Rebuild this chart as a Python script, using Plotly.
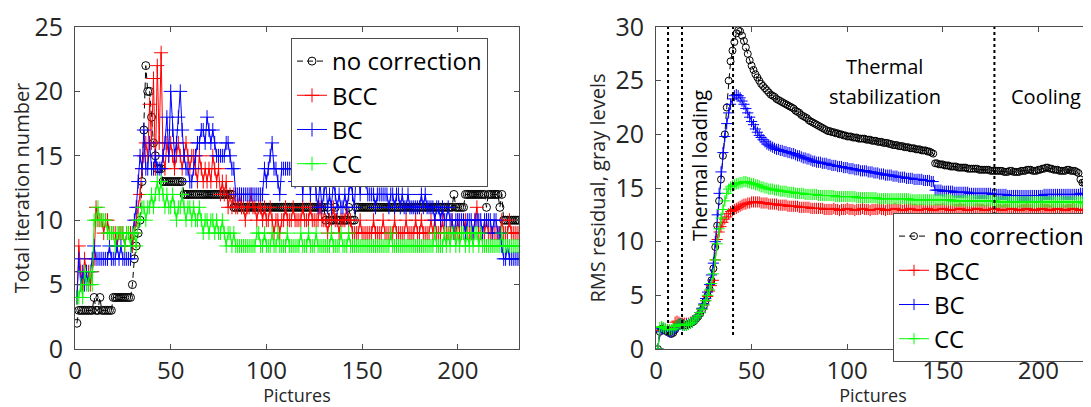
import plotly.graph_objects as go

# ---------------- data: left panel (total iteration number) ----------------
NC_ITER = [
2,3,3,3,3,3,3,3,3,4,
3,3,4,3,3,3,3,3,3,4,
4,4,4,4,4,4,4,4,4,5,
7,8,9,10,13,17,22,20,20,18,
16,15,14,14,14,13,13,13,13,13,
13,13,13,13,13,13,12,12,12,12,
12,12,12,12,12,12,12,12,12,12,
12,12,12,12,12,12,12,12,12,12,
12,12,11,11,11,11,11,11,11,11,
11,11,11,11,11,11,11,11,11,11,
11,11,11,11,11,11,11,11,11,11,
11,11,11,11,11,11,11,11,11,11,
11,11,11,11,11,11,11,11,11,11,
10,11,10,10,10,11,10,10,10,10,
10,10,11,10,10,10,11,11,11,11,
11,11,11,11,11,11,11,11,11,11,
11,11,11,11,11,11,11,11,11,11,
11,11,11,11,11,11,11,11,11,11,
11,11,11,11,11,11,11,11,11,11,
11,11,11,11,11,11,11,12,11,11,
11,11,11,12,12,12,12,12,12,12,
12,12,12,12,11,12,12,12,12,12,
12,11,12,10,10,10,10,10,10,10,
10,10]

BCC_ITER = [
4,8,6,5,7,6,6,5,6,7,
11,10,10,10,9,10,10,9,9,9,
9,8,9,9,9,8,9,9,9,8,
9,10,11,12,14,15,16,15,19,16,
21,14,22,16,23,15,14,16,15,16,
15,14,15,16,15,14,15,16,15,14,
15,15,14,13,15,14,13,14,13,14,
13,15,14,13,14,12,13,12,13,11,
12,11,12,11,11,12,11,11,10,11,
11,12,11,11,10,11,11,10,11,10,
10,11,10,9,10,10,9,10,10,11,
10,10,10,11,10,10,10,10,11,10,
10,10,11,10,10,10,10,11,10,10,
10,9,10,10,11,10,10,9,10,10,
10,11,10,10,9,9,9,9,10,9,
9,9,9,9,9,10,9,9,9,9,
10,9,9,9,9,9,10,9,9,9,
9,9,10,9,9,9,9,10,9,9,
10,9,9,9,9,10,9,10,9,9,
9,10,9,9,9,9,10,9,9,10,
9,9,9,10,9,9,9,9,10,11,
9,9,9,9,10,9,9,9,9,9,
9,9,10,9,9,9,10,9,9,9,
9,9]

BC_ITER = [
4,7,5,6,5,6,5,6,7,8,
7,7,7,7,7,7,7,8,7,7,
7,8,7,8,7,7,7,7,7,9,
10,11,13,15,14,17,14,14,16,14,
14,15,14,14,14,15,16,18,15,20,
17,15,16,18,20,17,15,14,14,13,
13,14,15,16,16,17,17,16,18,17,
16,17,16,15,15,15,15,15,16,16,
15,14,14,12,12,12,12,12,12,12,
12,12,12,12,12,12,12,12,14,13,
14,15,16,14,14,13,12,14,14,14,
14,14,14,14,13,14,14,14,12,14,
14,14,12,14,14,12,11,13,11,12,
13,11,12,11,13,12,11,12,11,11,
12,11,12,13,12,11,14,14,12,14,
14,13,12,12,12,12,11,12,12,12,
12,12,12,11,12,12,11,12,12,11,
12,11,11,12,11,11,11,11,11,11,
12,11,12,11,11,11,11,10,11,11,
10,11,10,10,11,10,10,9,10,10,
10,10,10,9,10,10,10,9,10,10,
10,10,9,10,10,10,10,9,10,10,
9,9,8,7,7,8,7,7,7,7,
7,7]

CC_ITER = [
4,4,5,4,6,5,5,6,5,10,
10,11,10,10,10,10,9,9,9,9,
8,9,9,9,9,8,9,9,8,9,
9,8,10,10,11,11,10,11,11,12,
11,12,13,12,13,12,11,12,11,11,
12,11,10,11,11,12,11,10,11,11,
10,11,10,10,11,10,9,10,10,9,
10,10,9,10,9,9,10,9,8,9,
9,8,9,8,8,8,8,8,8,8,
8,8,8,8,9,9,8,8,9,8,
8,8,9,8,8,9,8,8,8,8,
9,8,8,8,8,8,8,9,8,8,
8,9,8,8,8,9,8,8,8,8,
8,8,8,9,8,8,8,8,9,8,
8,8,9,8,8,8,8,8,8,8,
8,8,8,8,8,8,8,8,8,8,
8,8,8,8,9,8,8,8,8,8,
8,8,8,8,8,8,8,8,8,8,
8,8,8,8,8,8,8,9,8,8,
8,8,9,8,9,8,9,9,8,9,
8,9,9,8,9,8,9,8,9,9,
8,9,8,8,8,8,8,8,8,8,
8,8,9,8,8,8,8,8,8,8,
8,8]

# ---------------- data: right panel (RMS residual, gray levels) ----------------
NC_RMS = [
0.0,1.6,1.9,1.8,1.7,1.6,1.5,1.4,1.5,1.8,
2.1,2.4,2.5,2.3,2.2,2.2,2.3,2.4,2.5,2.6,
2.8,3.0,3.3,3.6,4.0,4.5,5.0,5.6,6.4,7.5,
9.5,11.5,13.8,15.8,18.0,20.0,22.5,25.0,26.8,27.8,
28.6,29.4,29.7,29.6,29.2,28.7,28.1,27.5,26.9,26.4,
26.0,25.6,25.3,25.0,24.7,24.5,24.3,24.1,23.9,23.7,
23.6,23.5,23.3,23.2,23.1,23.0,22.9,22.8,22.7,22.6,
22.5,22.4,22.2,22.1,22.0,21.8,21.7,21.6,21.5,21.3,
21.2,21.1,21.0,20.9,20.8,20.7,20.6,20.5,20.4,20.3,
20.3,20.2,20.2,20.1,20.1,20.0,20.0,19.9,19.9,19.8,
19.8,19.8,19.7,19.7,19.7,19.6,19.6,19.6,19.6,19.5,
19.5,19.5,19.4,19.4,19.4,19.3,19.3,19.3,19.2,19.2,
19.2,19.1,19.1,19.0,19.0,19.0,18.9,18.9,18.9,18.8,
18.8,18.8,18.7,18.7,18.7,18.6,18.6,18.6,18.5,18.5,
18.5,18.4,18.4,18.3,18.2,17.3,17.3,17.2,17.2,17.2,
17.1,17.1,17.1,17.0,17.0,17.0,17.0,16.9,16.9,16.9,
16.9,16.9,16.8,16.8,16.8,16.8,16.8,16.8,16.7,16.7,
16.7,16.7,16.7,16.7,16.6,16.6,16.6,16.6,16.6,16.6,
16.6,16.5,16.5,16.5,16.6,16.6,16.5,16.5,16.5,16.5,
16.6,16.6,16.6,16.7,16.7,16.7,16.6,16.6,16.6,16.7,
16.7,16.8,16.8,16.9,16.9,16.8,16.8,16.7,16.7,16.7,
16.6,16.6,16.6,16.6,16.7,16.7,16.6,16.6,16.6,16.5,
16.4,15.8,15.5,15.5,15.4,15.5,15.5]

BCC_RMS = [
0.0,1.7,2.0,1.9,1.8,1.8,1.7,1.7,2.0,2.5,
2.6,2.5,2.4,2.4,2.4,2.4,2.4,2.5,2.6,2.7,
2.9,3.1,3.4,3.7,4.1,4.5,4.9,5.4,5.9,6.4,
8.3,10.2,10.9,11.4,11.8,12.1,12.3,12.6,12.8,12.9,
13.0,13.1,13.2,13.3,13.4,13.5,13.5,13.6,13.6,13.7,
13.7,13.7,13.7,13.7,13.6,13.6,13.6,13.6,13.5,13.5,
13.5,13.5,13.5,13.4,13.4,13.4,13.4,13.4,13.3,13.3,
13.3,13.3,13.3,13.3,13.2,13.2,13.2,13.2,13.2,13.2,
13.1,13.1,13.1,13.1,13.1,13.1,13.1,13.0,13.0,13.0,
13.0,13.0,13.1,13.0,13.0,12.9,13.0,13.0,13.0,13.1,
13.0,13.0,13.0,12.9,13.0,13.0,13.0,13.1,13.0,13.0,
13.0,12.9,13.0,13.0,13.0,13.0,13.1,13.0,13.0,12.9,
13.0,13.0,13.0,13.0,13.1,13.0,13.0,13.0,12.9,13.0,
13.0,13.0,13.1,13.0,13.0,13.0,12.9,13.0,13.0,13.0,
13.0,13.1,13.0,13.0,12.9,13.0,13.0,13.0,13.0,13.1,
13.0,13.0,13.0,12.9,13.0,13.0,13.0,13.0,13.1,13.0,
13.0,13.0,12.9,13.0,13.0,13.0,13.0,13.1,13.0,13.0,
13.0,12.9,13.0,13.0,13.0,13.0,13.1,13.0,13.0,13.0,
12.9,13.0,13.0,13.0,13.0,13.1,13.0,13.0,13.0,12.9,
13.0,13.0,13.0,13.1,13.0,13.0,13.0,12.9,13.0,13.0,
13.0,13.1,13.0,13.0,13.0,12.9,13.0,13.0,13.0,13.1,
13.0,13.0,13.0,12.9,13.0,13.0,13.0,13.1,13.0,13.0,
13.0,12.9,13.0,13.0,13.0,13.1,13.0]

BC_RMS = [
0.0,1.6,1.9,1.9,1.8,1.7,1.6,1.6,1.7,1.9,
2.1,2.3,2.3,2.2,2.2,2.3,2.3,2.4,2.5,2.7,
2.9,3.1,3.4,3.8,4.2,4.7,5.3,6.0,6.9,8.0,
10.0,12.5,14.5,16.5,18.3,19.8,21.0,22.0,22.8,23.3,
23.6,23.7,23.6,23.4,23.1,22.8,22.4,22.0,21.6,21.2,
20.9,20.5,20.2,19.9,19.7,19.5,19.3,19.1,19.0,18.9,
18.8,18.7,18.6,18.6,18.5,18.5,18.4,18.4,18.3,18.3,
18.2,18.2,18.1,18.0,18.0,17.9,17.8,17.8,17.7,17.7,
17.6,17.5,17.5,17.4,17.4,17.4,17.3,17.3,17.3,17.2,
17.2,17.1,17.1,17.1,17.0,17.0,17.0,16.9,16.9,16.9,
16.8,16.8,16.8,16.7,16.7,16.7,16.6,16.6,16.6,16.6,
16.5,16.5,16.5,16.4,16.4,16.4,16.3,16.3,16.3,16.2,
16.2,16.2,16.2,16.1,16.1,16.1,16.0,16.0,16.0,16.0,
15.9,15.9,15.9,15.9,15.8,15.8,15.8,15.8,15.8,15.7,
15.7,15.7,15.7,15.6,15.6,14.8,14.8,14.8,14.8,14.7,
14.7,14.7,14.7,14.7,14.7,14.6,14.6,14.6,14.6,14.6,
14.6,14.6,14.6,14.5,14.5,14.5,14.5,14.5,14.5,14.5,
14.5,14.5,14.5,14.5,14.5,14.4,14.4,14.4,14.4,14.4,
14.4,14.4,14.4,14.3,14.3,14.3,14.3,14.3,14.3,14.3,
14.3,14.3,14.3,14.3,14.3,14.3,14.3,14.3,14.3,14.3,
14.3,14.3,14.4,14.4,14.4,14.4,14.4,14.4,14.4,14.4,
14.4,14.4,14.4,14.4,14.4,14.4,14.4,14.4,14.4,14.4,
14.4,14.5,14.5,14.4,14.4,14.4,14.4]

CC_RMS = [
0.0,2.0,2.1,2.0,1.9,1.8,1.8,1.8,1.9,2.1,
2.2,2.3,2.3,2.2,2.2,2.2,2.3,2.4,2.5,2.7,
2.9,3.1,3.4,3.7,4.1,4.5,5.0,5.5,6.1,7.0,
8.3,9.8,11.2,12.2,13.0,13.8,14.5,14.9,15.1,15.2,
15.3,15.4,15.4,15.5,15.5,15.6,15.6,15.5,15.5,15.4,
15.4,15.3,15.3,15.2,15.1,15.1,15.0,15.0,14.9,14.9,
14.9,14.8,14.8,14.8,14.7,14.7,14.7,14.7,14.6,14.6,
14.6,14.6,14.5,14.5,14.5,14.5,14.5,14.4,14.4,14.4,
14.4,14.4,14.4,14.4,14.3,14.3,14.3,14.3,14.3,14.3,
14.3,14.3,14.3,14.2,14.2,14.2,14.2,14.2,14.2,14.2,
14.2,14.2,14.2,14.2,14.1,14.1,14.1,14.1,14.1,14.1,
14.1,14.1,14.1,14.1,14.1,14.0,14.0,14.0,14.0,14.0,
14.0,14.0,14.0,14.0,14.0,14.0,14.0,14.0,14.0,14.0,
14.0,14.0,13.9,13.9,13.9,13.9,13.9,13.9,13.9,13.9,
13.9,13.9,13.9,13.9,13.9,13.9,13.9,13.9,13.9,13.9,
13.9,13.9,13.9,13.9,13.8,13.8,13.8,13.8,13.8,13.8,
13.8,13.8,13.8,13.8,13.8,13.8,13.8,13.8,13.8,13.8,
13.8,13.8,13.8,13.8,13.8,13.8,13.8,13.7,13.7,13.7,
13.7,13.7,13.7,13.7,13.7,13.7,13.7,13.7,13.7,13.7,
13.7,13.7,13.7,13.7,13.7,13.7,13.7,13.7,13.7,13.7,
13.7,13.7,13.7,13.7,13.7,13.7,13.7,13.7,13.7,13.7,
13.7,13.7,13.7,13.7,13.7,13.7,13.7,13.7,13.7,13.7,
13.7,13.7,13.7,13.6,13.6,13.6,13.6]

SERIES_NAMES = ["no correction", "BCC", "BC", "CC"]
SERIES_COLORS = ["#000000", "#ff0000", "#0000ff", "#00ff00"]
PHASE_BOUNDARIES = [6.3, 13.6, 40.3, 177.0]
PHASE_LABELS = ["Thermal loading", "Thermal", "stabilization", "Cooling"]
X_TICKS = [0, 50, 100, 150, 200]
Y_TICKS_LEFT = [0, 5, 10, 15, 20, 25]
Y_TICKS_RIGHT = [0, 5, 10, 15, 20, 25, 30]

# the page adds an 8px body margin, so the figure is 8px smaller each way
W, H = 1083, 399
OFF = 8
FONT = "Open Sans"
TXT = "#262626"
AX = "#4d4d4d"

def px_x(p):
    return (p - OFF) / W

def px_y(p):
    return 1 - (p - OFF) / H

fig = go.Figure()

left = [NC_ITER, BCC_ITER, BC_ITER, CC_ITER]
right = [NC_RMS, BCC_RMS, BC_RMS, CC_RMS]

for i, (name, col) in enumerate(zip(SERIES_NAMES, SERIES_COLORS)):
    sym = "circle-open" if i == 0 else "cross-thin-open"
    dash = "6px,4px" if i == 0 else "solid"
    ys = left[i]
    fig.add_trace(go.Scatter(
        x=list(range(1, len(ys) + 1)), y=ys, mode="lines+markers", name=name,
        line=dict(color=col, width=1, dash=dash),
        marker=dict(symbol=sym, size=8 if i == 0 else 10, color=col,
                    line=dict(color=col, width=1)),
        xaxis="x", yaxis="y", legend="legend"))

for i, (name, col) in enumerate(zip(SERIES_NAMES, SERIES_COLORS)):
    sym = "circle-open" if i == 0 else "cross-thin-open"
    dash = "6px,4px" if i == 0 else "solid"
    ys = right[i]
    fig.add_trace(go.Scatter(
        x=list(range(1, len(ys) + 1)), y=ys, mode="lines+markers", name=name,
        line=dict(color=col, width=1, dash=dash),
        marker=dict(symbol=sym, size=7 if i == 0 else 8, color=col,
                    line=dict(color=col, width=1)),
        xaxis="x2", yaxis="y2", legend="legend2"))

# phase boundaries (dotted)
for xb in PHASE_BOUNDARIES:
    fig.add_shape(type="line", xref="x2", yref="y2", x0=xb, x1=xb, y0=1.3, y1=30,
                  line=dict(color="black", width=2, dash="dot"), layer="above")

ydom = [px_y(349), px_y(27)]
axis_common = dict(showline=True, linecolor=AX, linewidth=1, mirror="ticks",
                   ticks="inside", ticklen=5, tickcolor=AX, showgrid=False,
                   zeroline=False, automargin=False)
YTICK_FONT = dict(family=FONT, size=25, color=TXT)
XTICK_FONT = dict(family=FONT, size=24, color=TXT)

LEG_FONT = dict(family=FONT, size=24, color="black")
TITLE_FONT = dict(family=FONT, size=20, color=TXT)
XTITLE_FONT = dict(family=FONT, size=18, color=TXT)

fig.update_layout(
    width=W, height=H, margin=dict(l=0, r=0, t=0, b=0, autoexpand=False),
    paper_bgcolor="white", plot_bgcolor="white",
    font=dict(family=FONT, color=TXT),
    xaxis=dict(domain=[px_x(75), px_x(519)], range=[0, 232], tickvals=X_TICKS,
               anchor="y", ticklabelstandoff=0, tickfont=XTICK_FONT,
               title=dict(text="Pictures", font=XTITLE_FONT, standoff=10),
               **axis_common),
    yaxis=dict(domain=ydom, range=[0, 25], tickvals=Y_TICKS_LEFT, anchor="x",
               ticklabelstandoff=6, tickfont=YTICK_FONT,
               title=dict(text="Total iteration number", font=TITLE_FONT, standoff=6),
               **axis_common),
    xaxis2=dict(domain=[px_x(656), px_x(1090)], range=[0, 227], tickvals=X_TICKS,
                anchor="y2", ticklabelstandoff=0, tickfont=XTICK_FONT,
                title=dict(text="Pictures", font=XTITLE_FONT, standoff=10),
                **axis_common),
    yaxis2=dict(domain=ydom, range=[0, 30], tickvals=Y_TICKS_RIGHT, anchor="x2",
                ticklabelstandoff=6, tickfont=YTICK_FONT,
                title=dict(text="RMS residual, gray levels", font=TITLE_FONT, standoff=4),
                **axis_common),
    legend=dict(x=px_x(291), y=px_y(38), xanchor="left", yanchor="top",
                bgcolor="white", bordercolor=AX, borderwidth=1,
                font=LEG_FONT, tracegroupgap=0),
    legend2=dict(x=px_x(1090), y=px_y(213), xanchor="right", yanchor="top",
                 bgcolor="white", bordercolor=AX, borderwidth=1,
                 font=LEG_FONT, tracegroupgap=0),
    showlegend=True,
)

ann_font = dict(family=FONT, size=20, color="black")
fig.add_annotation(x=22.5, y=17.05, xref="x2", yref="y2", text=PHASE_LABELS[0],
                   textangle=-90, showarrow=False, font=ann_font)
fig.add_annotation(x=119.7, y=26.3, xref="x2", yref="y2", text=PHASE_LABELS[1],
                   showarrow=False, font=ann_font)
fig.add_annotation(x=119.7, y=23.5, xref="x2", yref="y2", text=PHASE_LABELS[2],
                   showarrow=False, font=ann_font)
fig.add_annotation(x=203.9, y=23.5, xref="x2", yref="y2", text=PHASE_LABELS[3],
                   showarrow=False, font=ann_font)

fig.write_html("out.html")
